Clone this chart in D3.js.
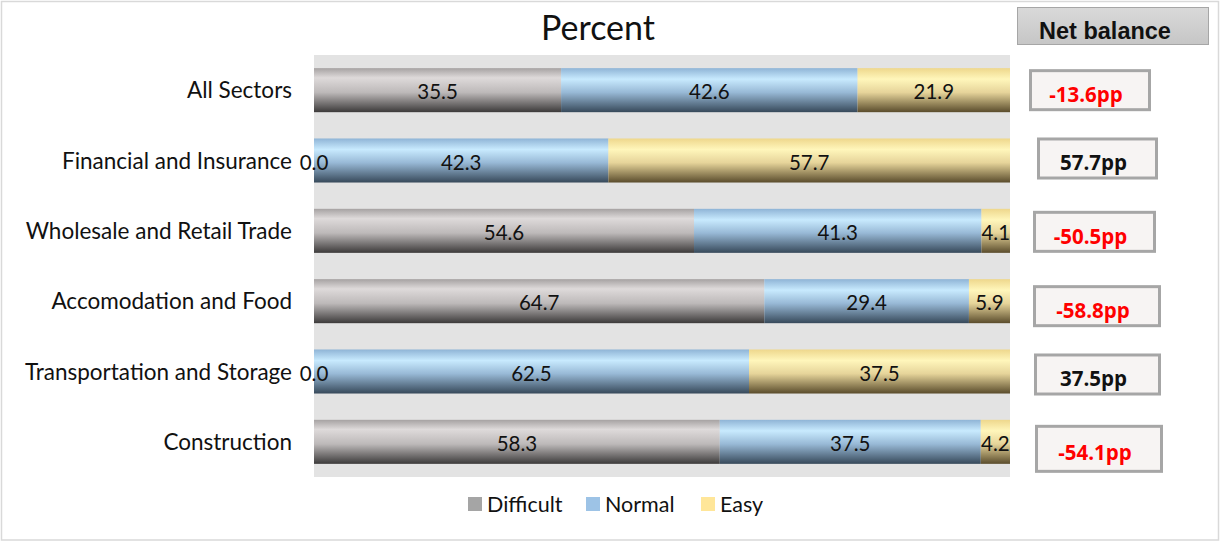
<!DOCTYPE html>
<html>
<head>
<meta charset="utf-8">
<script src="https://cdn.jsdelivr.net/npm/d3@7"></script>
<style>
  body { margin: 0; background: #fff; }
  svg { display: block; }
</style>
</head>
<body>
<script>
// data
var sectors = ["All Sectors", "Financial and Insurance", "Wholesale and Retail Trade",
               "Accomodation and Food", "Transportation and Storage", "Construction"];
var difficult = [35.5, 0.0, 54.6, 64.7, 0.0, 58.3];
var normal    = [42.6, 42.3, 41.3, 29.4, 62.5, 37.5];
var easy      = [21.9, 57.7, 4.1, 5.9, 37.5, 4.2];
var seriesNames = ["Difficult", "Normal", "Easy"];
var titleText = "Percent";
var netTitle = "Net balance";

var width = 1220, height = 542;
var plotLeft = 314, plotRight = 1010, plotTop = 55, plotBottom = 477;
var font = "Lato, 'Open Sans', sans-serif";

var svg = d3.select("body").append("svg")
    .attr("width", width)
    .attr("height", height);

// gradients for the glossy bars
var defs = svg.append("defs");
var gradStops = {
    Difficult: [["0%", "#a6a2a2"], ["22%", "#dedada"], ["55%", "#bdb9b9"], ["100%", "#3c3a3a"]],
    Normal:    [["0%", "#8fb4d6"], ["25%", "#c8eafe"], ["55%", "#98b9d6"], ["100%", "#37495a"]],
    Easy:      [["0%", "#eed78c"], ["25%", "#fff6bb"], ["55%", "#e6d49a"], ["100%", "#5a4c2c"]]
};
seriesNames.forEach(function(s) {
    var g = defs.append("linearGradient").attr("id", "g" + s)
        .attr("x1", 0).attr("y1", 0).attr("x2", 0).attr("y2", 1);
    gradStops[s].forEach(function(st) {
        g.append("stop").attr("offset", st[0]).attr("stop-color", st[1]);
    });
});
var hdr = defs.append("linearGradient").attr("id", "gHdr")
    .attr("x1", 0).attr("y1", 0).attr("x2", 0).attr("y2", 1);
hdr.append("stop").attr("offset", "0%").attr("stop-color", "#d9d9d9");
hdr.append("stop").attr("offset", "100%").attr("stop-color", "#c6c6c6");

// outer frame
svg.append("rect")
    .attr("x", 1.5).attr("y", 1.5)
    .attr("width", width - 3).attr("height", height - 3.5)
    .attr("fill", "#fff").attr("stroke", "#d9d9d9").attr("stroke-width", 1.5);

var xScale = d3.scaleLinear().domain([0, 100]).range([plotLeft, plotRight]);
var yScale = d3.scaleBand().domain(sectors)
    .range([plotTop, plotBottom])
    .paddingInner(0.374).paddingOuter(0.187);

// plot background
svg.append("rect")
    .attr("x", plotLeft).attr("y", plotTop)
    .attr("width", plotRight - plotLeft).attr("height", plotBottom - plotTop)
    .attr("fill", "#e3e3e3");

// stack the series
var rows = sectors.map(function(s, i) {
    return { sector: s, Difficult: difficult[i], Normal: normal[i], Easy: easy[i] };
});
var stacked = d3.stack().keys(seriesNames)(rows);

var layers = svg.selectAll("g.layer").data(stacked).enter()
    .append("g").attr("class", "layer")
    .attr("fill", function(d) { return "url(#g" + d.key + ")"; });

layers.selectAll("rect").data(function(d) { return d; }).enter()
    .append("rect")
    .attr("x", function(d) { return xScale(d[0]); })
    .attr("y", function(d) { return yScale(d.data.sector); })
    .attr("width", function(d) { return xScale(d[1]) - xScale(d[0]); })
    .attr("height", yScale.bandwidth());

// value labels
stacked.forEach(function(layer) {
    svg.append("g").selectAll("text").data(layer).enter()
        .append("text")
        .attr("x", function(d) { return (xScale(d[0]) + xScale(d[1])) / 2; })
        .attr("y", function(d) { return yScale(d.data.sector) + yScale.bandwidth() / 2 + 9; })
        .attr("text-anchor", "middle")
        .attr("font-family", font).attr("font-size", 20.5).attr("fill", "#111")
        .text(function(d) { return (d[1] - d[0]).toFixed(1); });
});

// category axis (no line, no ticks)
var yAxis = d3.axisLeft(yScale).tickSize(0).tickPadding(22);
var axisG = svg.append("g").attr("transform", "translate(" + plotLeft + ",0)").call(yAxis);
axisG.select(".domain").remove();
axisG.selectAll("text")
    .attr("font-family", font).attr("font-size", 22.5).attr("fill", "#111")
    .attr("dy", "0.36em");

// title
svg.append("text")
    .attr("x", 598).attr("y", 40)
    .attr("text-anchor", "middle")
    .attr("font-family", font).attr("font-size", 34).attr("fill", "#111")
    .text(titleText);

// net balance header
svg.append("rect")
    .attr("x", 1017.5).attr("y", 7.5).attr("width", 191).attr("height", 37)
    .attr("fill", "url(#gHdr)").attr("stroke", "#a6a6a6").attr("stroke-width", 1);
svg.append("text")
    .attr("x", 1105).attr("y", 39)
    .attr("text-anchor", "middle")
    .attr("font-family", "'Liberation Sans', Arial, sans-serif")
    .attr("font-weight", "bold").attr("font-size", 23.5).attr("fill", "#111")
    .text(netTitle);

// net balance boxes (easy minus difficult)
var boxShiftX = [-4, 4, 0, 0, 1, 2];
var boxShiftY = [1, -1, 2, 6, 4, 5];
var boxW = [122, 121, 123, 128, 127, 128];
var net = sectors.map(function(s, i) { return easy[i] - difficult[i]; });

var boxes = svg.append("g").selectAll("g").data(sectors).enter().append("g")
    .attr("transform", function(d, i) {
        return "translate(" + (1033 + boxShiftX[i]) + "," + (yScale(d) + boxShiftY[i]) + ")";
    });
boxes.append("rect")
    .attr("x", 1.5).attr("y", 1.5)
    .attr("width", function(d, i) { return boxW[i] - 3; })
    .attr("height", function(d, i) { return yScale.bandwidth() - 5 + (i == 5 ? 6 : 0); })
    .attr("fill", "#f7f4f3").attr("stroke", "#a6a6a6").attr("stroke-width", 3);
boxes.append("text")
    .attr("x", function(d, i) { return boxW[i] / 2 - 4; })
    .attr("y", function(d, i) { return yScale.bandwidth() / 2 + 11 + (i == 5 ? 2 : 0); })
    .attr("text-anchor", "middle")
    .attr("font-family", "'Open Sans', sans-serif").attr("font-weight", "bold")
    .attr("font-size", 20.5)
    .attr("fill", function(d, i) { return net[i] < 0 ? "#ff0000" : "#111"; })
    .text(function(d, i) { return net[i].toFixed(1) + "pp"; });

// legend
var legendColors = ["#a5a5a5", "#9dc3e6", "#ffe699"];
var legendX = [468, 586, 701];
var legend = svg.append("g").selectAll("g").data(seriesNames).enter().append("g")
    .attr("transform", function(d, i) { return "translate(" + legendX[i] + ",497)"; });
legend.append("rect")
    .attr("width", 14).attr("height", 14)
    .attr("fill", function(d, i) { return legendColors[i]; });
legend.append("text")
    .attr("x", 19).attr("y", 15)
    .attr("font-family", font).attr("font-size", 21.5).attr("fill", "#111")
    .text(function(d) { return d; });
</script>
</body>
</html>
